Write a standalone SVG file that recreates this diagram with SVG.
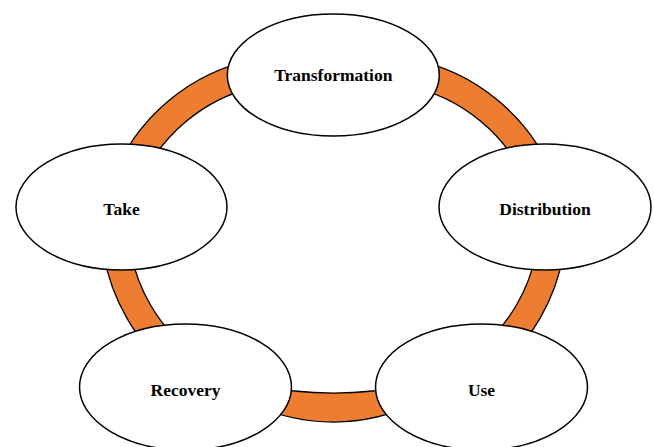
<svg xmlns="http://www.w3.org/2000/svg" width="654" height="447" viewBox="0 0 654 447">
<style>
.band{fill:#ED7D31;stroke:#000;stroke-width:1.3;stroke-linejoin:round}
.node{fill:#fff;stroke:#000;stroke-width:1.5}
.lbl{font-family:"Liberation Serif","Times New Roman",serif;font-weight:bold;font-size:17.5px;fill:#000;text-anchor:middle}
</style>
<rect width="654" height="447" fill="#fff"/>
<g id="connectors">
<path class="band" d="M 259.57,58.45 A 194.5 194.5 0 0 0 110.58,183.48 L 135.95,192.71 A 167.5 167.5 0 0 1 264.26,85.05 Z"/>
<path class="band" d="M 407.43,58.45 A 194.5 194.5 0 0 1 556.42,183.48 L 531.05,192.71 A 167.5 167.5 0 0 0 402.74,85.05 Z"/>
<path class="band" d="M 101.54,237.75 A 194.5 194.5 0 0 0 183.74,380.13 L 199.22,358.0 A 167.5 167.5 0 0 1 128.44,235.4 Z"/>
<path class="band" d="M 565.46,237.75 A 194.5 194.5 0 0 1 483.26,380.13 L 467.78,358.0 A 167.5 167.5 0 0 0 538.56,235.4 Z"/>
<path class="band" d="M 250,402.7 A 190 190 0 0 0 417,402.7 L 412,385.2 A 400 400 0 0 1 255,385.2 Z"/>
</g>
<g id="transformation">
<ellipse class="node" cx="333.3" cy="75" rx="106" ry="61"/>
<text class="lbl" x="333.3" y="81">Transformation</text>
</g>
<g id="distribution">
<ellipse class="node" cx="545" cy="207" rx="106" ry="63"/>
<text class="lbl" x="545" y="215">Distribution</text>
</g>
<g id="use">
<ellipse class="node" cx="481.5" cy="387" rx="106" ry="63"/>
<text class="lbl" x="481.5" y="396">Use</text>
</g>
<g id="recovery">
<ellipse class="node" cx="185.5" cy="387" rx="106" ry="63"/>
<text class="lbl" x="185.5" y="396">Recovery</text>
</g>
<g id="take">
<ellipse class="node" cx="121.5" cy="207" rx="105.5" ry="63"/>
<text class="lbl" x="121.5" y="215">Take</text>
</g>
</svg>
